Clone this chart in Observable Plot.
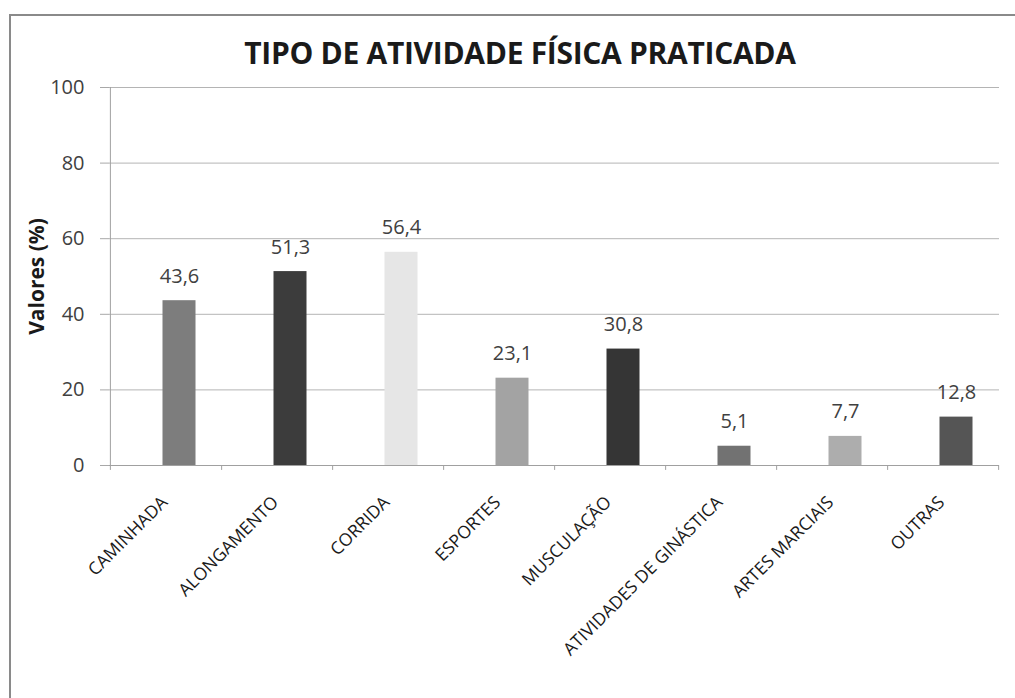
<!DOCTYPE html>
<html>
<head>
<meta charset="utf-8">
<script src="https://cdn.jsdelivr.net/npm/d3@7"></script>
<script src="https://cdn.jsdelivr.net/npm/@observablehq/plot@0.6"></script>
<style>
  html, body { margin: 0; padding: 0; background: #fff; }
  #wrap { position: relative; width: 1015px; height: 698px; overflow: hidden; font-family: "Open Sans", sans-serif; }
  #border { position: absolute; left: 9px; top: 14px; width: 1100px; height: 800px; border-top: 2px solid #8a8a8a; border-left: 2px solid #8a8a8a; }
  #title { position: absolute; top: 38px; left: 0; width: 1040px; text-align: center; font-size: 30px; line-height: 30px; font-weight: 700; color: #1a1a1a; letter-spacing: -0.3px; }
  #chart { position: absolute; left: 0; top: 0; }
  #chart svg [aria-label="y-axis label"] text { font-weight: 700; font-size: 21px; fill: #1a1a1a; }
</style>
</head>
<body>
<div id="wrap">
  <div id="border"></div>
  <div id="title"></div>
  <div id="chart"></div>
</div>
<script>
const title = "TIPO DE ATIVIDADE FÍSICA PRATICADA";
const yLabel = "Valores (%)";
const categories = ["CAMINHADA", "ALONGAMENTO", "CORRIDA", "ESPORTES", "MUSCULAÇÃO", "ATIVIDADES DE GINÁSTICA", "ARTES MARCIAIS", "OUTRAS"];
const values = [43.6, 51.3, 56.4, 23.1, 30.8, 5.1, 7.7, 12.8];
const valueLabels = ["43,6", "51,3", "56,4", "23,1", "30,8", "5,1", "7,7", "12,8"];
const barColors = ["#7d7d7d", "#3c3c3c", "#e6e6e6", "#a3a3a3", "#353535", "#727272", "#adadad", "#555555"];
const yTicks = [0, 20, 40, 60, 80, 100];

document.getElementById("title").textContent = title;

const data = categories.map((c, i) => ({cat: c, value: values[i], label: valueLabels[i], color: barColors[i]}));

const W = 1015, H = 698;
const mL = 109, mR = 16, mT = 87, mB = 233;
const step = (W - mL - mR) / categories.length;
const shift = 13.5;

const chart = Plot.plot({
  width: W,
  height: H,
  marginLeft: mL,
  marginRight: mR,
  marginTop: mT,
  marginBottom: mB,
  style: {fontFamily: "Open Sans, sans-serif", fontSize: "20px", color: "#404040", background: "transparent"},
  x: {domain: categories, paddingInner: 0.7, paddingOuter: 0.35, axis: null},
  y: {domain: [0, 100], ticks: yTicks},
  marks: [
    Plot.gridY(yTicks, {stroke: "#b4b4b4", strokeOpacity: 1, strokeWidth: 1}),
    Plot.axisY(yTicks, {tickSize: 9, tickPadding: 16, stroke: "#a8a8a8", fill: "#404040", fontSize: 20, label: yLabel, labelAnchor: "center", labelArrow: "none", labelOffset: 80}),
    Plot.barY(data, {x: "cat", y: "value", fill: "color", dx: shift}),
    Plot.ruleY([0], {stroke: "#a0a0a0", strokeWidth: 1}),
    Plot.ruleX([categories[0]], {x: d => d, y1: -1.3, y2: 100, dx: -step / 2, stroke: "#a0a0a0", strokeWidth: 1}),
    Plot.ruleX(categories, {x: d => d, y1: -1.3, y2: 0, dx: step / 2, stroke: "#a0a0a0", strokeWidth: 1}),
    Plot.text(data, {x: "cat", y: "value", text: "label", dx: shift, dy: -18, lineAnchor: "bottom", fontSize: 20, fill: "#404040"}),
    Plot.text(data, {x: "cat", y: () => 0, text: "cat", dx: shift - 15, dy: 34, rotate: -45, textAnchor: "end", lineAnchor: "middle", fontSize: 17.5, fill: "#1a1a1a"})
  ]
});
document.getElementById("chart").appendChild(chart);
</script>
</body>
</html>
